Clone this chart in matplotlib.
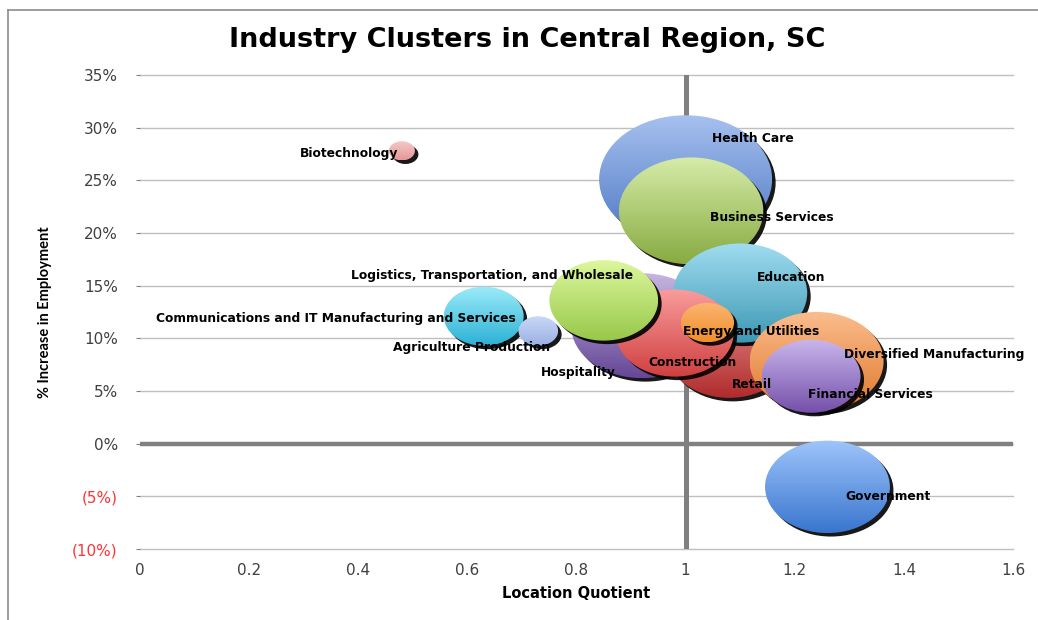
import numpy as np
import matplotlib
matplotlib.use("Agg")
import matplotlib.pyplot as plt
from matplotlib.patches import Ellipse
from matplotlib.lines import Line2D
from matplotlib.colors import to_rgb

plt.rcParams['font.family'] = ['DejaVu Sans']

# ---- data (drawing order: back to front) ----
names = ["Health Care", "Business Services", "Hospitality", "Retail", "Education",
         "Construction", "Logistics, Transportation, and Wholesale",
         "Diversified Manufacturing", "Financial Services", "Government",
         "Communications and IT Manufacturing and Services", "Agriculture Production",
         "Biotechnology", "Energy and Utilities"]
location_quotient = [1.00, 1.01, 0.92, 1.08, 1.10, 0.98, 0.85, 1.24, 1.23, 1.26, 0.63, 0.73, 0.48, 1.04]
pct_increase = [25.1, 22.1, 11.2, 8.7, 14.3, 10.5, 13.6, 7.8, 6.4, -4.1, 12.1, 10.7, 27.8, 11.5]
employment = [38000, 26500, 25500, 19500, 22800, 17600, 15000, 22800, 12400, 19800, 8100, 2000, 860, 3600]

top_colors = ["#a7c1ef", "#d5eba8", "#c5b5e0", "#e48a8a", "#a0dcf0", "#f99c9c", "#dcf79c",
              "#fbbd8e", "#c9b6ec", "#9ec4fa", "#9cecfa", "#c8d8f7", "#f8caca", "#fbb672"]
bottom_colors = ["#4d77c3", "#88ab42", "#664797", "#b02c2c", "#3c98b3", "#d04040", "#98c84a",
                 "#e0792c", "#7550aa", "#3a76cf", "#2cb0d4", "#9bb0e4", "#e49898", "#f08f2a"]

# label offsets (pixels, +x right, +y down)
label_dx = [67, 81, -63.5, 23, 51, 18, -112, 117.5, 59.5, 61, -147.5, -66.5, -53, 43.5]
label_dy = [-41, 6.5, 46.5, 32, -15.5, 29.5, -24.5, -7, 18, 10, 2.5, 17, 3, 9]

y_ticks = [-10, -5, 0, 5, 10, 15, 20, 25, 30, 35]
x_ticks = [0, 0.2, 0.4, 0.6, 0.8, 1, 1.2, 1.4, 1.6]
x_tick_labels = ["0", "0.2", "0.4", "0.6", "0.8", "1", "1.2", "1.4", "1.6"]

W, H = 1038, 620
fig = plt.figure(figsize=(W / 100, H / 100), dpi=100)
ax = fig.add_axes([140 / W, 71 / H, 873 / W, 474 / H])
xmin, xmax, ymin, ymax = 0, 1.6, -10, 35
ax.set_xlim(xmin, xmax)
ax.set_ylim(ymin, ymax)

# pixel -> data scale
ax_w_px = 873.0
ax_h_px = 474.0
ux = (xmax - xmin) / ax_w_px
uy = (ymax - ymin) / ax_h_px

k = 86.5 / np.sqrt(max(employment))
aspect_ratio = 0.74

# grid
for yv in y_ticks:
    ax.axhline(yv, color="#bfbfbf", lw=1.0, zorder=0.5, clip_on=False)
ax.axhline(0, color="#808080", lw=3.2, zorder=0.8)
ax.axvline(1, color="#808080", lw=3.6, zorder=0.8)

for i, (nm, x, y, s) in enumerate(zip(names, location_quotient, pct_increase, employment)):
    rx_px = k * np.sqrt(s)
    ry_px = rx_px * aspect_ratio
    rx = rx_px * ux
    ry = ry_px * uy
    z = 2 + i * 0.1
    # shadow
    sh = Ellipse((x + 3.5 * ux, y - 3.5 * uy), 2 * rx, 2 * ry, facecolor="black",
                 edgecolor="none", alpha=0.9, zorder=z)
    ax.add_patch(sh)
    # gradient fill
    clip = Ellipse((x, y), 2 * rx, 2 * ry, facecolor="none", edgecolor="none",
                   transform=ax.transData, zorder=z + 0.02)
    ax.add_patch(clip)
    c1 = np.array(to_rgb(top_colors[i]))
    c2 = np.array(to_rgb(bottom_colors[i]))
    t = np.linspace(0, 1, 64)[:, None]
    grad = (c1[None, :] * (1 - t) + c2[None, :] * t)[:, None, :]
    im = ax.imshow(grad, extent=[x - rx, x + rx, y - ry, y + ry], origin="upper",
                   aspect="auto", interpolation="bilinear", zorder=z + 0.01)
    im.set_clip_path(clip)

for i, (nm, x, y) in enumerate(zip(names, location_quotient, pct_increase)):
    ax.annotate(nm, (x, y), xytext=(label_dx[i], -label_dy[i]), textcoords="offset pixels",
                ha="center", va="center", fontsize=8.8, fontweight="bold",
                color="black", zorder=20)

ax.set_xlim(xmin, xmax)
ax.set_ylim(ymin, ymax)
ax.set_aspect("auto")

for sp in ax.spines.values():
    sp.set_visible(False)

ax.set_yticks(y_ticks)
ax.set_yticklabels([f"{v}%" if v >= 0 else f"({-v}%)" for v in y_ticks])
for lbl, v in zip(ax.get_yticklabels(), y_ticks):
    lbl.set_color("#ff3333" if v < 0 else "#404040")
ax.set_xticks(x_ticks)
ax.set_xticklabels(x_tick_labels)
ax.tick_params(axis="y", length=3, color="#808080", pad=13, labelsize=11)
ax.tick_params(axis="x", length=0, pad=10, labelsize=11, labelcolor="#404040")

ax.set_xlabel("Location Quotient", fontsize=10.5, fontweight="bold", va="center")
ax.xaxis.set_label_coords(0.5, (549 - 593) / 474)
ax.set_ylabel("% Increase in Employment", fontsize=10.5, fontweight="bold", va="center",
              family=["Lato", "DejaVu Sans"])
ax.yaxis.set_label_coords((45 - 140) / 873, 0.5)

fig.text(527 / W, 1 - 40 / H, "Industry Clusters in Central Region, SC",
         ha="center", va="center", fontsize=19.5, fontweight="bold")

# chart border (top and left visible)
fig.add_artist(Line2D([8 / W, 1.0], [1 - 10 / H, 1 - 10 / H], transform=fig.transFigure,
                      color="#8c8c8c", lw=1.2))
fig.add_artist(Line2D([8 / W, 8 / W], [0, 1 - 10 / H], transform=fig.transFigure,
                      color="#8c8c8c", lw=1.2))

fig.savefig("out.png", dpi=100)
